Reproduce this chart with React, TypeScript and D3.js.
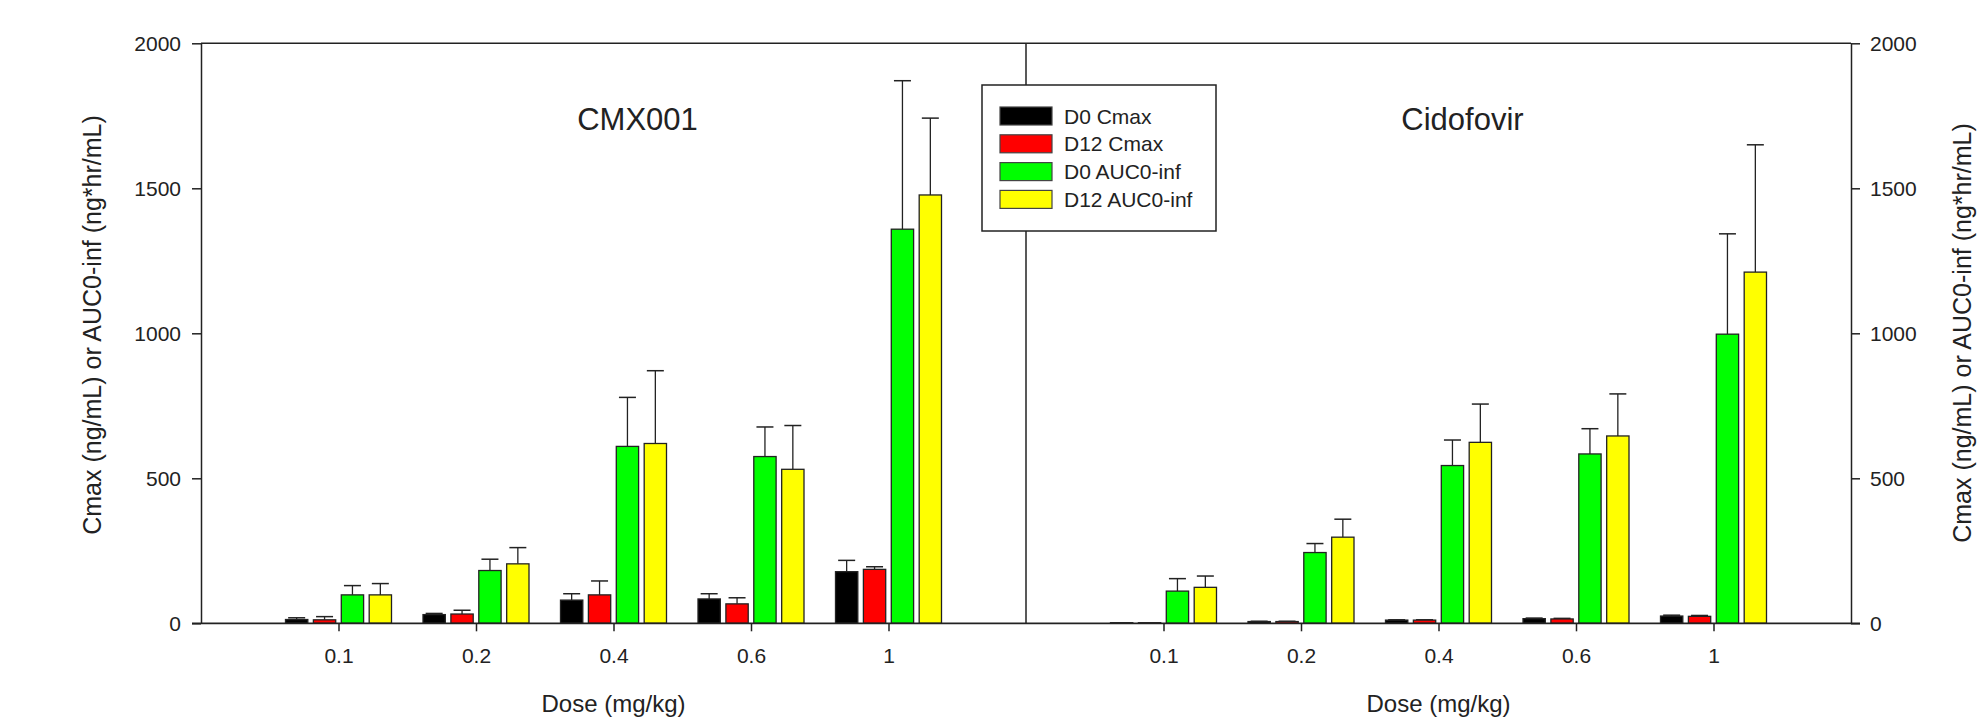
import React, { useEffect, useRef } from 'react';
import * as d3 from 'd3';

const width = 1987;
const height = 722;
const padding = { left: 201, right: 136, top: 43.3, down: 98.7 };
const font = '"Liberation Sans", Arial, Helvetica, sans-serif';
const ink = '#222';

const doses = ['0.1', '0.2', '0.4', '0.6', '1'];
const seriesNames = ['D0 Cmax', 'D12 Cmax', 'D0 AUC0-inf', 'D12 AUC0-inf'];
const seriesColors = ['#000000', '#ff0000', '#00ff00', '#ffff00'];
const panelTitles = ['CMX001', 'Cidofovir'];
const yTicks = [0, 500, 1000, 1500, 2000];
const xTitle = 'Dose (mg/kg)';
const yTitle = 'Cmax (ng/mL) or AUC0-inf (ng*hr/mL)';

// CMX001 means, per series, per dose
const cmxD0Cmax = [13, 30, 80, 84, 178];
const cmxD12Cmax = [12, 32, 98, 67, 186];
const cmxD0Auc = [98, 182, 610, 575, 1359];
const cmxD12Auc = [98, 205, 620, 531, 1477];
// CMX001 SD (upper error bar)
const cmxD0CmaxSd = [6, 4, 22, 18, 39];
const cmxD12CmaxSd = [11, 13, 48, 21, 9];
const cmxD0AucSd = [32, 39, 169, 102, 512];
const cmxD12AucSd = [39, 56, 251, 151, 265];

// Cidofovir means
const cdvD0Cmax = [2, 6, 11, 16, 25];
const cdvD12Cmax = [2, 6, 11, 15, 24];
const cdvD0Auc = [111, 244, 544, 584, 997];
const cdvD12Auc = [124, 297, 624, 646, 1211];
// Cidofovir SD
const cdvD0CmaxSd = [0, 1, 1, 2, 3];
const cdvD12CmaxSd = [0, 1, 1, 2, 3];
const cdvD0AucSd = [43, 31, 88, 87, 346];
const cdvD12AucSd = [39, 62, 132, 145, 439];

const panels = [
  { title: panelTitles[0], means: [cmxD0Cmax, cmxD12Cmax, cmxD0Auc, cmxD12Auc], sds: [cmxD0CmaxSd, cmxD12CmaxSd, cmxD0AucSd, cmxD12AucSd] },
  { title: panelTitles[1], means: [cdvD0Cmax, cdvD12Cmax, cdvD0Auc, cdvD12Auc], sds: [cdvD0CmaxSd, cdvD12CmaxSd, cdvD0AucSd, cdvD12AucSd] },
];

export default function App() {
  const ref = useRef<SVGSVGElement>(null);

  useEffect(() => {
    const svg = d3.select(ref.current);
    svg.selectAll('*').remove();

    const yScale = d3.scaleLinear()
      .domain([0, 2000])
      .range([height - padding.down, padding.top]);
    const y0 = yScale(0);
    const plotRight = width - padding.right;
    const panelW = (plotRight - padding.left) / 2;

    panels.forEach((panel, i) => {
      const x0 = padding.left + i * panelW;
      const xScale = d3.scalePoint<string>()
        .domain(doses)
        .range([x0, x0 + panelW])
        .padding(1);
      const inner = d3.scaleBand<string>()
        .domain(seriesNames)
        .range([-53, 53])
        .paddingInner(0.2);
      const bw = inner.bandwidth();

      const groups = svg.append('g')
        .selectAll('g')
        .data(doses)
        .join('g')
        .attr('transform', d => `translate(${xScale(d)},0)`);

      seriesNames.forEach((s, si) => {
        const bx = inner(s) as number;
        // error bars first, then bars on top
        groups.each(function (d, di) {
          const v = panel.means[si][di];
          const sd = panel.sds[si][di];
          const g = d3.select(this);
          if (sd > 0) {
            const cx = bx + bw / 2;
            g.append('line')
              .attr('x1', cx).attr('x2', cx)
              .attr('y1', yScale(v)).attr('y2', yScale(v + sd))
              .attr('stroke', ink).attr('stroke-width', 1.3);
            g.append('line')
              .attr('x1', cx - 8.5).attr('x2', cx + 8.5)
              .attr('y1', yScale(v + sd)).attr('y2', yScale(v + sd))
              .attr('stroke', ink).attr('stroke-width', 1.5);
          }
          g.append('rect')
            .attr('x', bx)
            .attr('y', yScale(v))
            .attr('width', bw)
            .attr('height', y0 - yScale(v))
            .attr('fill', seriesColors[si])
            .attr('stroke', ink)
            .attr('stroke-width', 1.3);
        });
      });

      //x-axis ticks + labels
      const xAxis = d3.axisBottom(xScale).tickSize(8).tickSizeOuter(0).tickPadding(17);
      const xg = svg.append('g')
        .attr('transform', `translate(0,${y0})`)
        .call(xAxis);
      xg.select('.domain').remove();
      xg.selectAll('line').attr('stroke', ink).attr('stroke-width', 1.5);
      xg.selectAll('text').attr('fill', ink).style('font-size', '21px').style('font-family', font);

      //x-axis label
      svg.append('text')
        .attr('x', x0 + panelW / 2)
        .attr('y', 712)
        .attr('text-anchor', 'middle')
        .style('font-family', font)
        .style('font-size', '24px')
        .attr('fill', ink)
        .text(xTitle);

      //panel title
      svg.append('text')
        .attr('x', x0 + panelW / 2 + 24)
        .attr('y', 130)
        .attr('text-anchor', 'middle')
        .style('font-family', font)
        .style('font-size', '31px')
        .attr('fill', ink)
        .text(panel.title);
    });

    // frame: top line, middle divider, baseline
    svg.append('line')
      .attr('x1', padding.left).attr('x2', plotRight)
      .attr('y1', padding.top).attr('y2', padding.top)
      .attr('stroke', ink).attr('stroke-width', 1.5);
    svg.append('line')
      .attr('x1', padding.left + panelW).attr('x2', padding.left + panelW)
      .attr('y1', padding.top).attr('y2', y0)
      .attr('stroke', ink).attr('stroke-width', 1.5);
    svg.append('line')
      .attr('x1', padding.left - 9).attr('x2', plotRight + 9)
      .attr('y1', y0).attr('y2', y0)
      .attr('stroke', ink).attr('stroke-width', 1.8);

    // y axes on both sides
    const styleAxis = (g: any) => {
      g.selectAll('line, path').attr('stroke', ink).attr('stroke-width', 1.5);
      g.selectAll('text').attr('fill', ink).style('font-size', '21px').style('font-family', font);
    };
    svg.append('g')
      .attr('transform', `translate(${padding.left},0)`)
      .call(d3.axisLeft(yScale).tickValues(yTicks).tickSize(9).tickSizeOuter(0).tickPadding(11).tickFormat(d3.format('d')))
      .call(styleAxis);
    svg.append('g')
      .attr('transform', `translate(${plotRight},0)`)
      .call(d3.axisRight(yScale).tickValues(yTicks).tickSize(9).tickSizeOuter(0).tickPadding(10).tickFormat(d3.format('d')))
      .call(styleAxis);

    //y-axis labels
    svg.append('text')
      .attr('transform', `translate(94, 325) rotate(-90)`)
      .attr('text-anchor', 'middle')
      .attr('dominant-baseline', 'middle')
      .style('font-family', font)
      .style('font-size', '25px')
      .attr('fill', ink)
      .text(yTitle);
    svg.append('text')
      .attr('transform', `translate(1964, 333) rotate(-90)`)
      .attr('text-anchor', 'middle')
      .attr('dominant-baseline', 'middle')
      .style('font-family', font)
      .style('font-size', '25px')
      .attr('fill', ink)
      .text(yTitle);

    // legend
    const legend = svg.append('g');
    legend.append('rect')
      .attr('x', 982).attr('y', 85)
      .attr('width', 234).attr('height', 146)
      .attr('fill', '#fff')
      .attr('stroke', ink).attr('stroke-width', 1.5);
    const rows = legend.selectAll('g.row')
      .data(seriesNames)
      .join('g')
      .attr('class', 'row')
      .attr('transform', (d, i) => `translate(1000, ${116 + i * 27.8})`);
    rows.append('rect')
      .attr('x', 0).attr('y', -9)
      .attr('width', 52).attr('height', 18)
      .attr('fill', (d, i) => seriesColors[i])
      .attr('stroke', '#444').attr('stroke-width', 1.2);
    rows.append('text')
      .attr('x', 64).attr('y', 7.5)
      .style('font-family', font)
      .style('font-size', '21px')
      .attr('fill', ink)
      .text(d => d);
  }, []);

  return <svg ref={ref} width={width} height={height}
    style={{ position: 'absolute', left: 0, top: 0, background: '#fff' }} />;
}
